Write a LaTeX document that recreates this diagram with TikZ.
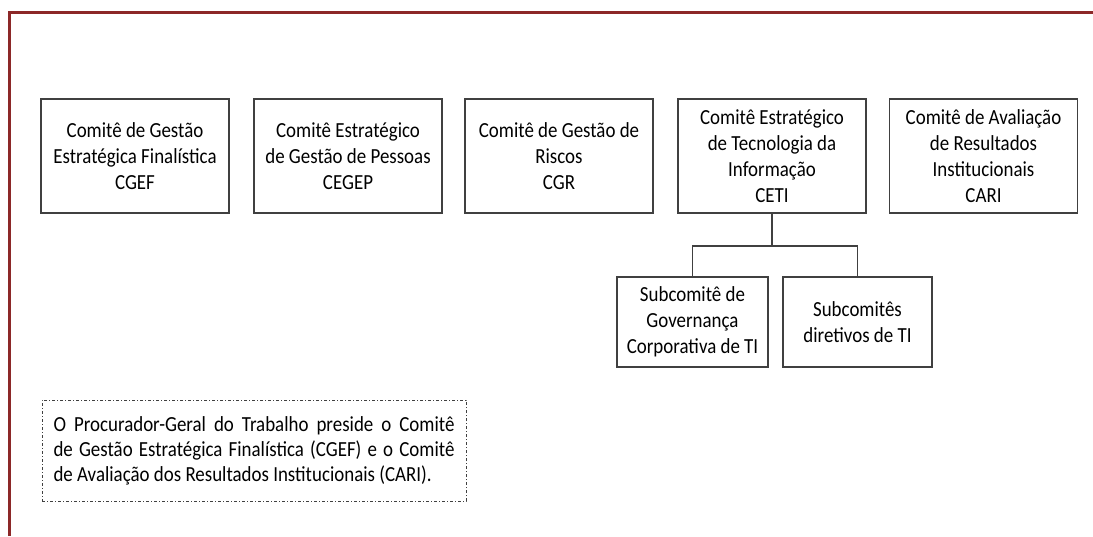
\documentclass[tikz,border=0pt]{standalone}
\usepackage{fontspec}
\setmainfont{Carlito}[FakeStretch=0.88]
\definecolor{moldura}{RGB}{140,40,40}
\definecolor{borda}{RGB}{64,64,64}
\tikzset{
	comite/.style={draw=borda,line width=1.3pt,align=center,font=\fontsize{21.5}{26}\selectfont,minimum width=188,minimum height=114,inner sep=0pt},
	subcomite/.style={draw=borda,line width=1.3pt,align=center,font=\fontsize{21.5}{26}\selectfont,minimum height=90,inner sep=0pt},
	nota/.style={draw=borda,line width=0.8pt,dash pattern=on 3pt off 2pt on 1pt off 2pt,minimum width=424,minimum height=101,inner sep=0pt}
}
\begin{document}
\begin{tikzpicture}[x=1pt,y=-1pt]
		\useasboundingbox (0,0) rectangle (1093,536);
		\draw[moldura,line width=3pt] (9.5,536) -- (9.5,12) -- (1093,12);
		\node[comite] (cgef) at (135,156) {Comitê de Gestão\\Estratégica Finalística\\CGEF};
		\node[comite] (cegep) at (348,156) {Comitê Estratégico\\de Gestão de Pessoas\\CEGEP};
		\node[comite] (cgr) at (559,156) {Comitê de Gestão de\\Riscos\\CGR};
		\node[comite] (ceti) at (772,156) {Comitê Estratégico\\de Tecnologia da\\Informação\\CETI};
		\node[comite] (cari) at (983.5,156) {Comitê de Avaliação\\de Resultados\\Institucionais\\CARI};
		\node[subcomite,minimum width=151] (sgct) at (692.5,322) {Subcomitê de\\Governança\\Corporativa de TI};
		\node[subcomite,minimum width=149] (sdti) at (857.5,322) {Subcomitês\\diretivos de TI};
		\coordinate (ramo) at (772,246);
		\draw[borda,line width=1.3pt] (ceti.south) -- (ramo);
		\draw[borda,line width=1.3pt] (ramo) -| (sgct.north);
		\draw[borda,line width=1.3pt] (ramo) -| (sdti.north);
		\node[nota] (obs) at (254,450.5) {};
		\node[text width=401,align=justify,font=\fontsize{21.5}{25}\selectfont,inner sep=0pt] (obstexto) at (obs.center) {O Procurador-Geral do Trabalho preside o Comitê\linebreak de Gestão Estratégica Finalística (CGEF) e o Comitê\linebreak de Avaliação dos Resultados Institucionais (CARI).};
		\end{tikzpicture}
\end{document}
